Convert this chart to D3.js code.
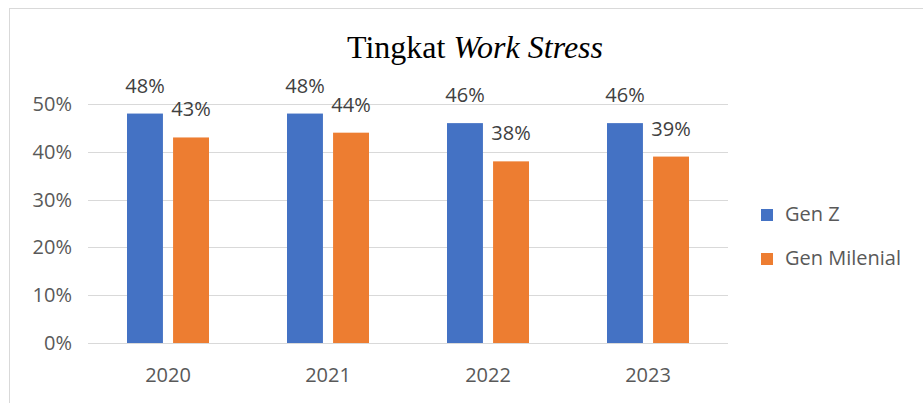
<!DOCTYPE html>
<html><head><meta charset="utf-8">
<script src="https://cdn.jsdelivr.net/npm/d3@7"></script>
<style>body{margin:0;background:#fff}svg{display:block}</style>
</head><body>
<script>
const categories = ["2020","2021","2022","2023"];
const seriesNames = ["Gen Z","Gen Milenial"];
const genZ = [48,48,46,46];
const genMilenial = [43,44,38,39];
const yTicks = [0,10,20,30,40,50];
const colors = ["#4472C4","#ED7D31"];

const W=923,H=403;
const svg=d3.select("body").append("svg").attr("width",W).attr("height",H);
svg.append("rect").attr("x",9.5).attr("y",8.5).attr("width",W).attr("height",H).attr("fill","#fff").attr("stroke","#d9d9d9");

const x=d3.scaleBand().domain(categories).range([88,728]);
const y=d3.scaleLinear().domain([0,50]).range([343,104]);
const xs=d3.scaleBand().domain(seriesNames).range([0,82]).paddingInner(0.22);
const font="'Open Sans', sans-serif";
const fs=20;

// gridlines
svg.append("g").selectAll("line").data(yTicks).join("line")
 .attr("x1",88).attr("x2",728).attr("y1",d=>Math.round(y(d))+0.5).attr("y2",d=>Math.round(y(d))+0.5)
 .attr("stroke","#d9d9d9").attr("stroke-width",1);

// y axis labels
const ya=svg.append("g").attr("transform","translate(72,0)").call(d3.axisLeft(y).tickValues(yTicks).tickSize(0).tickPadding(0).tickFormat(d=>d+"%"));
ya.select(".domain").remove();
ya.selectAll("text").attr("font-family",font).attr("font-size",fs).attr("fill","#595959");

// x axis labels
const xa=svg.append("g").attr("transform","translate(0,382)").call(d3.axisBottom(x).tickSize(0).tickPadding(0));
xa.select(".domain").remove();
xa.selectAll("text").attr("font-family",font).attr("font-size",fs).attr("fill","#595959").attr("dy","0");

const data=categories.map((c,i)=>({c,vals:[genZ[i],genMilenial[i]]}));
const groups=svg.append("g").selectAll("g").data(data).join("g")
 .attr("transform",d=>`translate(${x(d.c)+x.bandwidth()/2-41},0)`);
groups.selectAll("rect").data(d=>d.vals.map((v,j)=>({v,s:seriesNames[j],j}))).join("rect")
 .attr("x",d=>xs(d.s)).attr("width",xs.bandwidth()).attr("y",d=>y(d.v)).attr("height",d=>y(0)-y(d.v))
 .attr("fill",d=>colors[d.j]);
groups.selectAll("text").data(d=>d.vals.map((v,j)=>({v,s:seriesNames[j],j}))).join("text")
 .attr("x",d=>xs(d.s)+xs.bandwidth()/2).attr("y",d=>y(d.v)-21).attr("text-anchor","middle")
 .attr("font-family",font).attr("font-size",fs).attr("fill","#404040").text(d=>d.v+"%");

// title
const t=svg.append("text").attr("x",475).attr("y",58).attr("text-anchor","middle")
 .attr("font-family","'Liberation Serif', serif").attr("font-size",32).attr("fill","#000");
t.append("tspan").text("Tingkat ");
t.append("tspan").attr("font-style","italic").text("Work Stress");

// legend
const lg=svg.append("g").selectAll("g").data(seriesNames).join("g")
 .attr("transform",(d,i)=>`translate(761,${209+i*44})`);
lg.append("rect").attr("width",12).attr("height",12).attr("fill",(d,i)=>colors[i]);
lg.append("text").attr("x",24).attr("y",12).attr("font-family",font).attr("font-size",fs).attr("fill","#595959").text(d=>d);
</script>
</body></html>
